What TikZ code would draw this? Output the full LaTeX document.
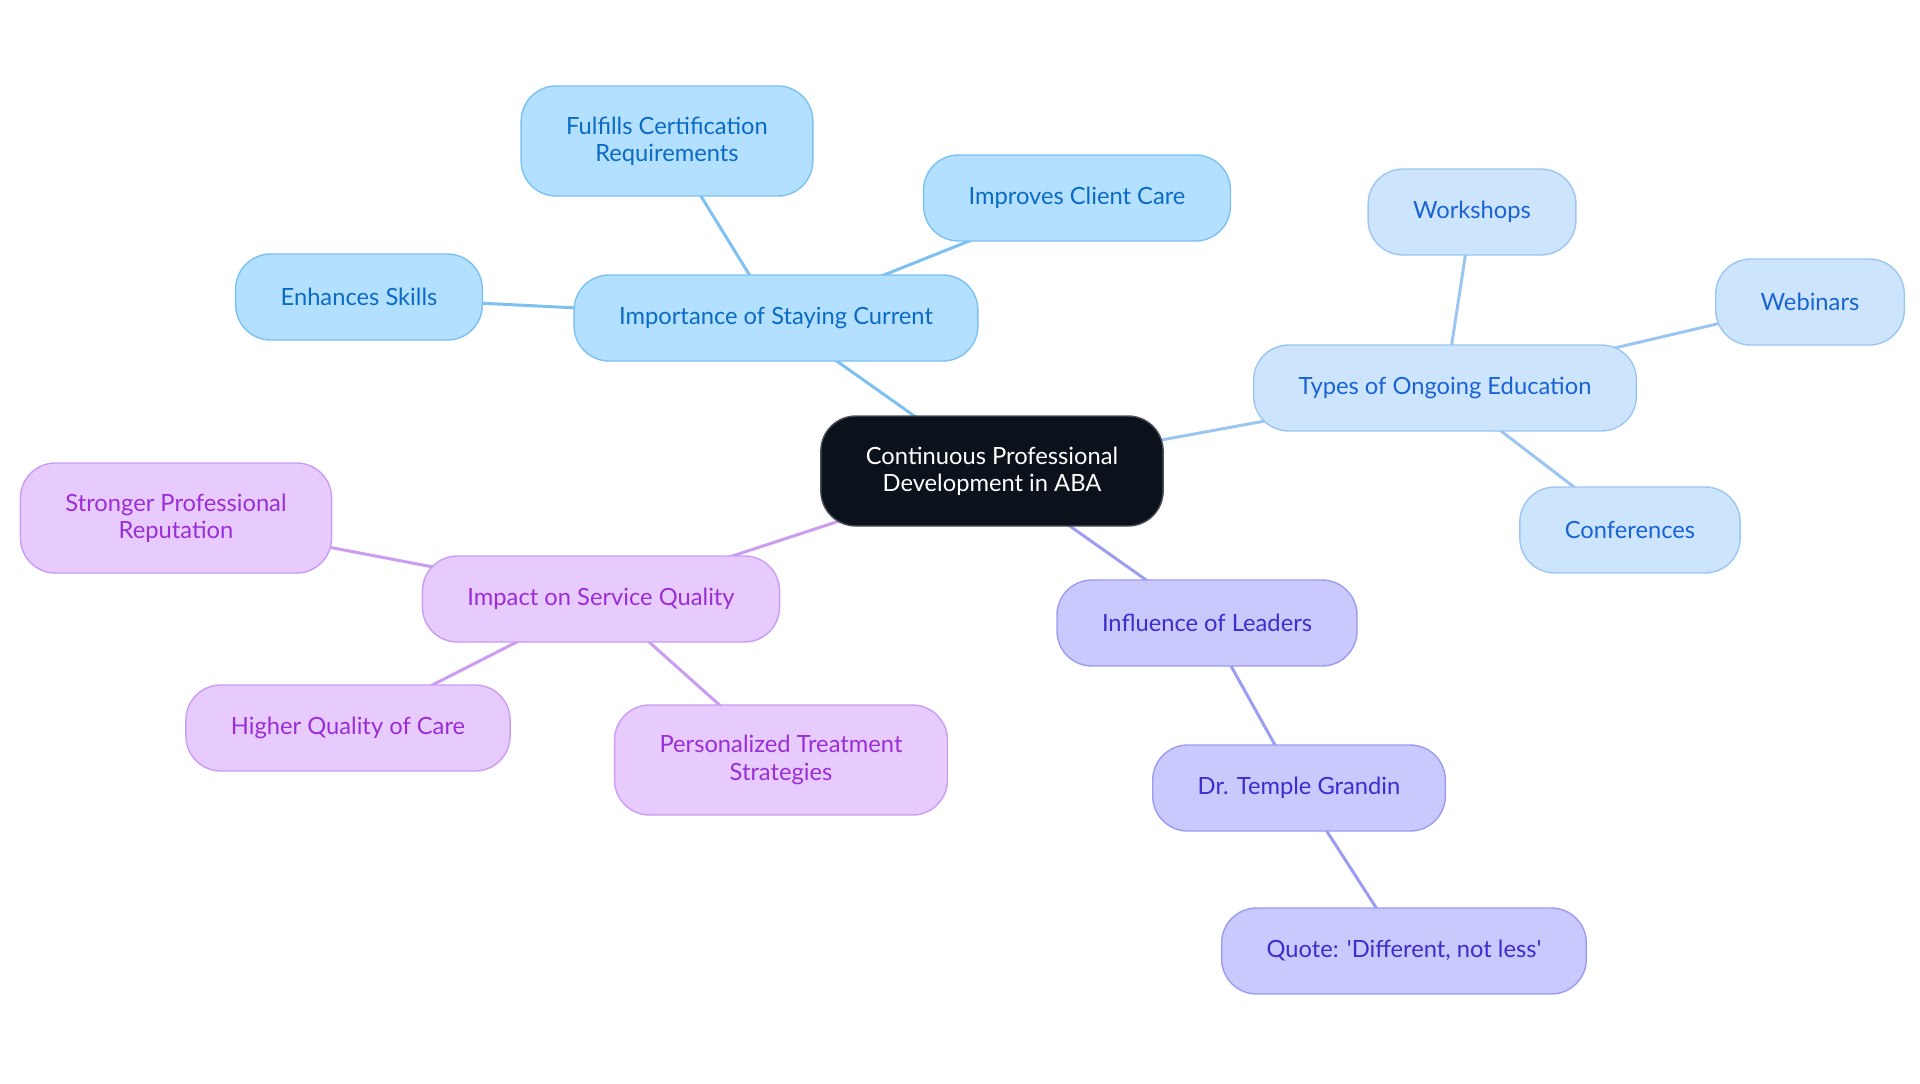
\documentclass[tikz,border=0pt]{standalone}
\usepackage{fontspec}
\setmainfont{Lato}
\usetikzlibrary{backgrounds}

\definecolor{rootfill}{HTML}{0C121C}
\definecolor{rootline}{HTML}{4A4F57}
\definecolor{skyfill}{HTML}{B3E0FF}
\definecolor{skyline}{HTML}{7CC1F2}
\definecolor{skytext}{HTML}{0B6BC4}
\definecolor{palefill}{HTML}{CDE4FD}
\definecolor{paleline}{HTML}{9CC6F2}
\definecolor{paletext}{HTML}{1A63D3}
\definecolor{lilacfill}{HTML}{E8CBFE}
\definecolor{lilacline}{HTML}{CB9CF2}
\definecolor{lilactext}{HTML}{9A2ED6}
\definecolor{indfill}{HTML}{C9C9FD}
\definecolor{indline}{HTML}{9C9CF2}
\definecolor{indtext}{HTML}{3B2ECC}

\begin{document}
\begin{tikzpicture}
  [x=0.02cm,y=-0.02cm,
   every node/.style={rectangle,rounded corners=0.7cm,align=center,
     font=\fontsize{13.5}{15.5}\selectfont,inner xsep=0.9cm,
     minimum height=1.72cm,line width=0.8pt},
   root/.style={fill=rootfill,draw=rootline,text=white},
   sky/.style={fill=skyfill,draw=skyline,text=skytext},
   pale/.style={fill=palefill,draw=paleline,text=paletext},
   lilac/.style={fill=lilacfill,draw=lilacline,text=lilactext},
   ind/.style={fill=indfill,draw=indline,text=indtext},
   tall/.style={minimum height=2.2cm},
   link/.style={line width=1.7pt}]
    \useasboundingbox (0,0) rectangle (1920,1083);

    \node (cpd)   [root,tall]  at (992,471)  {Continuous Professional\\Development in ABA};

    \node (stay)  [sky]        at (776,318)  {Importance of Staying Current};
    \node (cert)  [sky,tall]   at (667,141)  {Fulfills Certification\\Requirements};
    \node (care)  [sky]        at (1077,198) {Improves Client Care};
    \node (skill) [sky]        at (359,297)  {Enhances Skills};

    \node (types) [pale]       at (1445,388) {Types of Ongoing Education};
    \node (work)  [pale]       at (1472,212) {Workshops};
    \node (web)   [pale]       at (1810,302) {Webinars};
    \node (conf)  [pale]       at (1630,530) {Conferences};

    \node (impact)[lilac]      at (601,599)  {Impact on Service Quality};
    \node (rep)   [lilac,tall] at (176,518)  {Stronger Professional\\Reputation};
    \node (high)  [lilac]      at (348,728)  {Higher Quality of Care};
    \node (pers)  [lilac,tall] at (781,760)  {Personalized Treatment\\Strategies};

    \node (lead)  [ind]        at (1207,623) {Influence of Leaders};
    \node (tg)    [ind]        at (1299,788) {Dr. Temple Grandin};
    \node (quote) [ind]        at (1404,951) {Quote: \textquotesingle Different, not less\textquotesingle};

    % connectors behind the boxes
    \begin{scope}[on background layer]
      \foreach \from/\to in {cpd/stay,stay/cert,stay/care,stay/skill}
        \draw[link,skyline] (\from.center) -- (\to.center);
      \foreach \from/\to in {cpd/types,types/work,types/web,types/conf}
        \draw[link,paleline] (\from.center) -- (\to.center);
      \foreach \from/\to in {cpd/impact,impact/rep,impact/high,impact/pers}
        \draw[link,lilacline] (\from.center) -- (\to.center);
      \foreach \from/\to in {cpd/lead,lead/tg,tg/quote}
        \draw[link,indline] (\from.center) -- (\to.center);
    \end{scope}
  \end{tikzpicture}
\end{document}
